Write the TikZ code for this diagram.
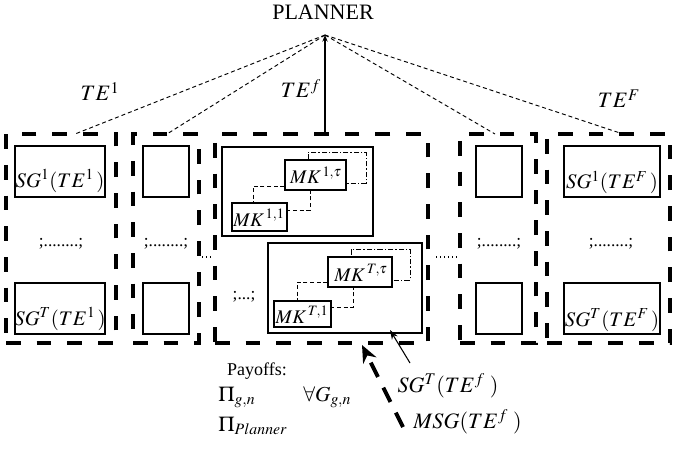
\documentclass[tikz,border=0pt]{standalone}
\usepackage{mathptmx}
\usepackage{fontspec}
\setmainfont{Liberation Serif}
\usetikzlibrary{arrows.meta}
\newcommand\mybox[6]{%
  \pgfmathsetmacro\bw{(#5-#3)*0.75}\pgfmathsetmacro\bh{(#6-#4)*0.75}%
  \node[#2, minimum width=\bw pt, minimum height=\bh pt, inner sep=0pt, outer sep=0pt] (#1) at ({(#3+#5)/2},{(#4+#6)/2}) {};}
\begin{document}
\begin{tikzpicture}[x=0.75pt,y=-0.75pt,
  tebox/.style={draw, line width=3pt, dash pattern=on 11pt off 12pt},
  sgbox/.style={draw, line width=0.8pt, fill=white},
  mkbox/.style={draw, line width=0.8pt, fill=white},
  dbox/.style={draw, line width=0.7pt, dash pattern=on 3pt off 2pt},
  ddbox/.style={draw, line width=0.7pt, dash pattern=on 4pt off 1.5pt on 1pt off 1.5pt},
  tline/.style={line width=0.7pt, dash pattern=on 3pt off 2.2pt},
  big/.style={font=\fontsize{16.5}{18}\selectfont, inner sep=0pt, anchor=base},
  sgl/.style={font=\fontsize{15.5}{18}\selectfont, inner sep=0pt, anchor=base},
  mkl/.style={font=\fontsize{14.5}{16}\selectfont, inner sep=0pt, anchor=base},
  mid/.style={font=\fontsize{13.5}{15}\selectfont, inner sep=0pt, anchor=base},
  pl/.style={font=\fontsize{16}{18}\selectfont, inner sep=0pt, anchor=base west},
  dots/.style={font=\fontsize{13}{15}\selectfont, inner sep=0pt, anchor=base}]
\useasboundingbox (0,0) rectangle (674,449);

% planner
\node[big] (planner) at (323,20) {PLANNER};
\coordinate (apex) at (325,35);

% thick dashed TE boxes
\mybox{b1}{tebox}{6}{134}{116}{343}
\mybox{b2}{tebox}{133}{134}{199}{343}
\mybox{b3}{tebox}{215}{134}{428}{343}
\mybox{b4}{tebox}{460}{134}{536}{343}
\mybox{b5}{tebox}{547}{134}{670}{343}

% box 1
\mybox{s11}{sgbox}{15}{146}{105}{197}
\mybox{s1T}{sgbox}{15}{283}{105}{334}
\node[sgl] (l11) at (60,187) {$SG^{1}(TE^{1}\,)$};
\node[sgl] (l1T) at (60,325) {$SG^{T}(TE^{1}\,)$};
\node[dots] (d1) at (61,246) {;........;};

% box 2
\mybox{s21}{sgbox}{143}{146}{189}{197}
\mybox{s2T}{sgbox}{143}{283}{189}{334}
\node[dots] (d2) at (166,246) {;........;};

% box 4
\mybox{s41}{sgbox}{476}{146}{522}{197}
\mybox{s4T}{sgbox}{476}{283}{522}{334}
\node[dots] (d4) at (499,246) {;........;};

% box 5
\mybox{s51}{sgbox}{564}{146}{660}{197}
\mybox{s5T}{sgbox}{564}{283}{660}{334}
\node[sgl] (l51) at (612,189) {$SG^{1}(TE^{F}\,)$};
\node[sgl] (l5T) at (612,326) {$SG^{T}(TE^{F}\,)$};
\node[dots] (d5) at (611,246) {;........;};

% box 3 (TE^f)
\mybox{g1}{sgbox}{222}{147}{373}{236}
\mybox{g2}{sgbox}{268}{243}{422}{333}
\node[dots] (d3) at (244,299) {;...;};

\mybox{dd1}{ddbox}{308}{152}{366}{183}
\mybox{da1}{dbox}{253}{186}{310}{210}
\mybox{mk1t}{mkbox}{285}{160}{346}{190}
\mybox{mk11}{mkbox}{232}{203}{287}{231}
\node[mkl] (lmk1t) at (316,184) {$MK^{\,1,\tau}$};
\node[mkl] (lmk11) at (259,226) {$MK^{\,1,1}$};

\mybox{dd2}{ddbox}{351}{249}{410}{280}
\mybox{da2}{dbox}{297}{282}{353}{307}
\mybox{mkTt}{mkbox}{328}{257}{392}{287}
\mybox{mkT1}{mkbox}{274}{301}{331}{327}
\node[mkl] (lmkTt) at (361,281) {$MK^{\,T,\tau}$};
\node[mkl] (lmkT1) at (302,323) {$MK^{\,T,1}$};

% dotted links between boxes
\draw[line width=1pt, dash pattern=on 1pt off 2pt] (202,257) -- (212,257);
\draw[line width=1pt, dash pattern=on 1pt off 2pt] (436,257) -- (458,257);

% planner connectors
\draw[tline] (apex) -- (75,134);
\draw[tline] (apex) -- (167,134);
\draw[tline] (apex) -- (495,134);
\draw[tline] (apex) -- (623,134);
\draw[line width=0.8pt, -{Stealth[length=5pt,width=4pt]}] (b3.north -| apex) -- (apex);

\node[big] (te1) at (100,101) {$TE^{1}$};
\node[big] (tef) at (301,98) {$TE^{f}$};
\node[big] (teF) at (619,108) {$TE^{F}$};

% payoffs
\node[mid] (pay) at (257,375) {Payoffs:};
\node[pl] (pgn) at (218,401) {$\Pi_{g,n}$};
\node[pl] (fa) at (303,401) {$\forall G_{g,n}$};
\node[pl] (pp) at (218,431) {$\Pi_{Planner}$};

% bottom labels and arrows
\node[big] (sgtf) at (448,392) {$SG^{T}(TE^{f}\;)$};
\node[big, anchor=base west] (msg) at (413,428) {$MSG(TE^{f}\;)$};
\coordinate (a1s) at (410,363);
\coordinate (a1e) at (390,330);
\draw[line width=0.8pt, -{Stealth[length=7pt,width=5pt]}] (a1s) -- (a1e);
\coordinate (a2s) at (403,427);
\coordinate (a2e) at (362,345);
\draw[line width=3pt, dash pattern=on 12pt off 9pt, -{Stealth[length=13pt,width=11pt]}] (a2s) -- (a2e);
\end{tikzpicture}
\end{document}
